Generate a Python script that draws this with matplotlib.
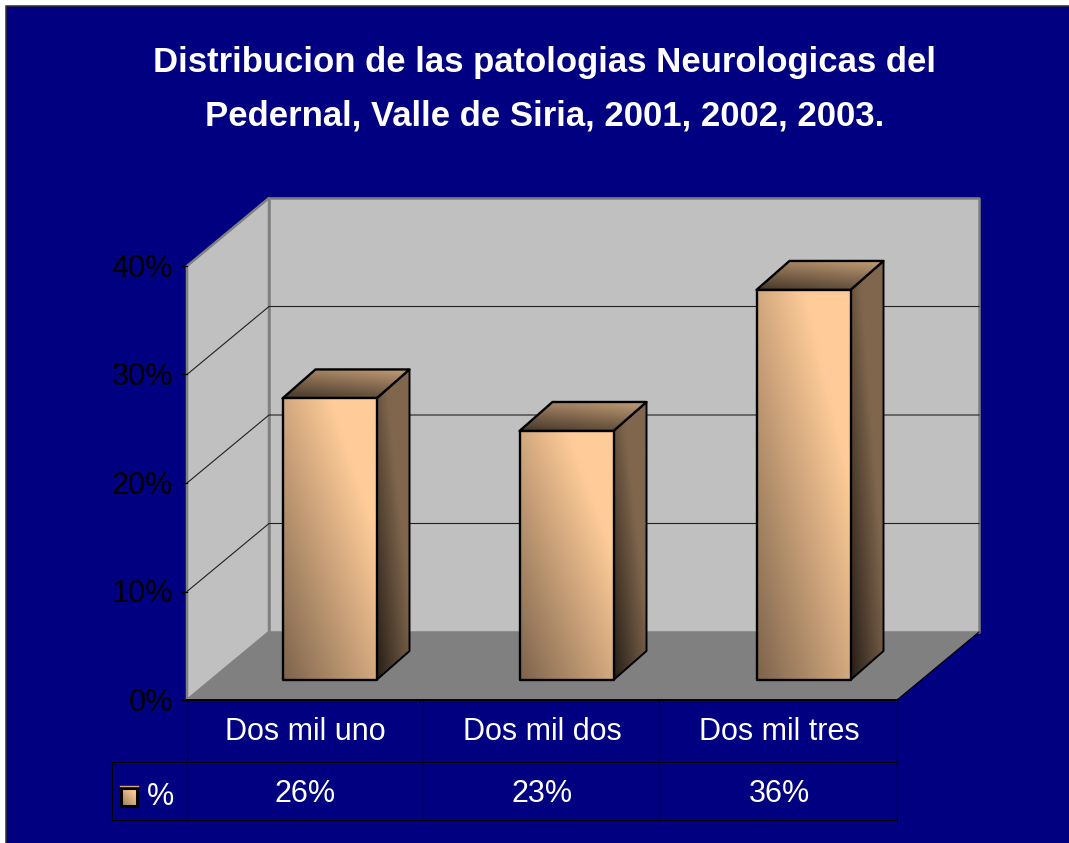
import numpy as np
import matplotlib
matplotlib.use("Agg")
import matplotlib.pyplot as plt
from matplotlib.patches import Polygon, Rectangle

plt.rcParams['font.family'] = ['Liberation Sans', 'DejaVu Sans']

categories = ["Dos mil uno", "Dos mil dos", "Dos mil tres"]
values = [26, 23, 36]
value_labels = ["26%", "23%", "36%"]
ticks = [0, 10, 20, 30, 40]
tick_labels = ["0%", "10%", "20%", "30%", "40%"]
series_name = "%"
title_lines = ["Distribucion de las patologias Neurologicas del",
               "Pedernal, Valle de Siria, 2001, 2002, 2003."]

W, H = 1069, 843
NAVY = "#000080"
CAT_PX = 237.0     # pixels per category
PCT_PX = 10.85     # pixels per percent
X0_PX = 305.0      # pixel of first category centre
Y0_PX = 700.0      # pixel of 0%

fig = plt.figure(figsize=(W / 100, H / 100), dpi=100, facecolor="white")
ax = fig.add_axes([0, 0, 1, 1])
ax.set_xlim(-X0_PX / CAT_PX, (W - X0_PX) / CAT_PX)
ax.set_ylim((Y0_PX - H) / PCT_PX, Y0_PX / PCT_PX)
ax.axis("off")


def px(x, y):
    # pixel position of the picture -> axis units
    return (x - X0_PX) / CAT_PX, (Y0_PX - y) / PCT_PX


def shade(poly, c0, c1, wx, wy, z, lw=1.7):
    # gradient from c0 (lower left) to c1 (upper right), clipped to the face
    poly = np.array(poly)
    xs = np.linspace(0, 1, 80)
    ys = np.linspace(0, 1, 80)
    gx, gy = np.meshgrid(xs, ys)
    t = np.clip(wx * gx + wy * gy, 0, 1)[..., None]
    img = np.array(c0) + (np.array(c1) - np.array(c0)) * t
    im = ax.imshow(img / 255, origin="lower", aspect="auto", zorder=z, interpolation="bilinear",
                   extent=[poly[:, 0].min(), poly[:, 0].max(), poly[:, 1].min(), poly[:, 1].max()])
    p = Polygon(poly, closed=True, transform=ax.transData, fc="none", ec="none")
    ax.add_patch(p)
    im.set_clip_path(p)
    ax.add_patch(Polygon(poly, closed=True, fc="none", ec="black", lw=lw, zorder=z + 0.1, joinstyle="round"))


# background with the frame line
ax.add_patch(Rectangle(px(5.5, H + 5), (W + 5) / CAT_PX, (H + 5 - 6.5) / PCT_PX, fc=NAVY, ec="#303030", lw=1.1, zorder=0))

# walls and floor
left, right = -0.5 + (187 - 186.5) / CAT_PX, 2.5 + (898 - 898.5) / CAT_PX
dx, dy = 82 / CAT_PX, 68 / PCT_PX
top = ticks[-1]
ax.add_patch(Polygon([(left + dx, dy), (right + dx, dy), (right + dx, dy + top), (left + dx, dy + top)],
                     fc="#c0c0c0", ec="#808080", lw=1.8, zorder=1, joinstyle="round"))
ax.add_patch(Polygon([(left, 0), (left + dx, dy), (left + dx, dy + top), (left, top)],
                     fc="#c0c0c0", ec="#808080", lw=1.8, zorder=1, joinstyle="round"))
ax.add_patch(Polygon([(left, 0), (right, 0), (right + dx, dy), (left + dx, dy)],
                     fc="#808080", ec="none", zorder=1.1))
ax.plot([right, right + dx], [0, dy], color="black", lw=0.8, zorder=1.2)
ax.plot([left, right], [0, 0], color="black", lw=1.4, zorder=1.2)

# gridlines and ticks
for t in ticks[1:-1]:
    ax.plot([left, left + dx, right + dx], [t, t + dy, t + dy], color="#202020", lw=0.8, zorder=1.3)
for t in ticks:
    ax.plot([left - 5 / CAT_PX, left], [t, t], color="black", lw=0.9, zorder=1.3)
for t, lab in zip(ticks, tick_labels):
    ax.text(left - 14 / CAT_PX, t - 3 / PCT_PX, lab, ha="right", va="center", color="black", fontsize=22, zorder=3)

# bars
bw = 94 / CAT_PX
bx = 24.5 / CAT_PX - bw / 2
by = 20 / PCT_PX
ddx, ddy = 33 / CAT_PX, 29 / PCT_PX
for i, v in enumerate(values):
    x0 = i + bx
    x1 = x0 + bw
    y0 = by
    y1 = by + v - 0.05
    shade([(x1, y0), (x1 + ddx, y0 + ddy), (x1 + ddx, y1 + ddy), (x1, y1)],
          (38, 30, 23), (128, 102, 77), 0.8, 0.8, 4, lw=1.4)
    shade([(x0, y1), (x1, y1), (x1 + ddx, y1 + ddy), (x0 + ddx, y1 + ddy)],
          (68, 54, 41), (196, 157, 118), 0.3, 0.7, 4.2)
    shade([(x0, y0), (x1, y0), (x1, y1), (x0, y1)],
          (125, 100, 76), (255, 204, 153), 0.66, 0.66, 4.4)

# data table
row1 = (Y0_PX - 762) / PCT_PX
row2 = (Y0_PX - 820) / PCT_PX
legend_left = (112 - X0_PX) / CAT_PX
for i in range(0, 4):
    ax.plot([left + i * (right - left) / 3 - (0.004 if i in (1, 2) else 0)] * 2, [0, row2], color="black", lw=0.8, zorder=2)
ax.plot([legend_left, right], [row1, row1], color="black", lw=0.7, zorder=2)
ax.plot([legend_left, right], [row2, row2], color="black", lw=0.7, zorder=2)
ax.plot([legend_left, legend_left], [row1, row2], color="black", lw=0.7, zorder=2)
for i, (c, lab) in enumerate(zip(categories, value_labels)):
    ax.text(i, (Y0_PX - 732) / PCT_PX, c, ha="center", va="center", color="white", fontsize=22, zorder=3)
    ax.text(i, (Y0_PX - 794) / PCT_PX, lab, ha="center", va="center", color="white", fontsize=22, zorder=3)
ax.text(*px(161, 797), series_name, ha="center", va="center", color="white", fontsize=22, zorder=3)

# legend key
kx0, ky0 = px(121, 806)
kx1, ky1 = px(137, 788)
shade([(kx0, ky0), (kx1, ky0), (kx1, ky1), (kx0, ky1)],
      (150, 120, 90), (255, 204, 153), 0.6, 0.6, 4, lw=2.2)
ax.plot([kx0 - 0.005, kx1 + 0.005], [ky1 + 0.2, ky1 + 0.2], color="#d9a873", lw=1, zorder=5)

# title
for line, y in zip(title_lines, [63, 116]):
    ax.text(*px(544.5, y), line, ha="center", va="center", color="white", fontsize=25, fontweight="bold", zorder=3)

fig.savefig("out.png", dpi=100, facecolor="white")
